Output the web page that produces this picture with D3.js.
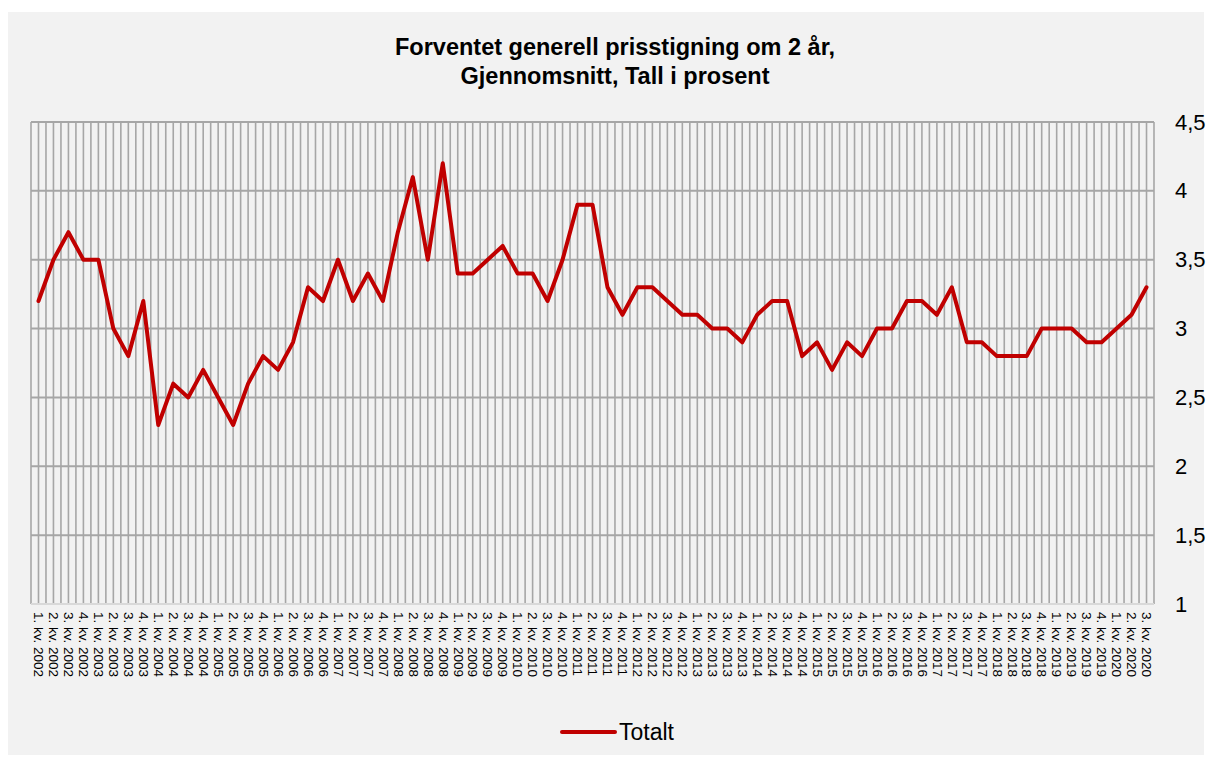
<!DOCTYPE html>
<html>
<head>
<meta charset="utf-8">
<script src="https://cdn.jsdelivr.net/npm/d3@7"></script>
<style>
  html, body { margin: 0; padding: 0; background: #ffffff; }
  svg { display: block; }
  text { font-family: "Liberation Sans", Arial, sans-serif; fill: #000; }
</style>
</head>
<body>
<svg id="chart" width="1211" height="761"></svg>
<script>
// ---- data ----
const titleLines = ["Forventet generell prisstigning om 2 år,", "Gjennomsnitt, Tall i prosent"];
const seriesName = "Totalt";
const years = [2002, 2003, 2004, 2005, 2006, 2007, 2008, 2009, 2010, 2011, 2012, 2013, 2014, 2015, 2016, 2017, 2018, 2019, 2020];
const quarters = ["1. kv.", "2. kv.", "3. kv.", "4. kv."];
const categories = [];
years.forEach(y => quarters.forEach(q => { if (!(y === 2020 && q === "4. kv.")) categories.push(q + " " + y); }));
const values = [
  3.2, 3.5, 3.7, 3.5,   // 2002
  3.5, 3.0, 2.8, 3.2,   // 2003
  2.3, 2.6, 2.5, 2.7,   // 2004
  2.5, 2.3, 2.6, 2.8,   // 2005
  2.7, 2.9, 3.3, 3.2,   // 2006
  3.5, 3.2, 3.4, 3.2,   // 2007
  3.7, 4.1, 3.5, 4.2,   // 2008
  3.4, 3.4, 3.5, 3.6,   // 2009
  3.4, 3.4, 3.2, 3.5,   // 2010
  3.9, 3.9, 3.3, 3.1,   // 2011
  3.3, 3.3, 3.2, 3.1,   // 2012
  3.1, 3.0, 3.0, 2.9,   // 2013
  3.1, 3.2, 3.2, 2.8,   // 2014
  2.9, 2.7, 2.9, 2.8,   // 2015
  3.0, 3.0, 3.2, 3.2,   // 2016
  3.1, 3.3, 2.9, 2.9,   // 2017
  2.8, 2.8, 2.8, 3.0,   // 2018
  3.0, 3.0, 2.9, 2.9,   // 2019
  3.0, 3.1, 3.3         // 2020
];
const yTicks = [1, 1.5, 2, 2.5, 3, 3.5, 4, 4.5];

// ---- layout ----
const svg = d3.select("#chart");
const plot = { left: 31, right: 1154, top: 122, bottom: 604 };
const gridColor = "#a6a6a6";
const lineColor = "#c00000";

svg.append("rect").attr("x", 8).attr("y", 12).attr("width", 1196).attr("height", 743)
  .attr("fill", "#f2f2f2");

const x = d3.scalePoint().domain(categories).range([plot.left, plot.right]).padding(0.5);
const y = d3.scaleLinear().domain([1, 4.5]).range([plot.bottom, plot.top]);
const step = x.step();
const locale = d3.formatLocale({ decimal: ",", thousands: " ", grouping: [3], currency: ["", " kr"] });
const fmt = locale.format("~g");

// vertical gridlines (category centres and boundaries)
const vLines = [];
categories.forEach(c => { vLines.push(x(c) - step / 2); vLines.push(x(c)); });
vLines.push(plot.right);
svg.append("g").selectAll("line").data(vLines).join("line")
  .attr("x1", d => d).attr("x2", d => d)
  .attr("y1", plot.top).attr("y2", plot.bottom)
  .attr("stroke", gridColor).attr("stroke-width", 1.6);

// horizontal gridlines
svg.append("g").selectAll("line").data(yTicks.filter(t => t > 1)).join("line")
  .attr("x1", plot.left).attr("x2", plot.right)
  .attr("y1", d => y(d)).attr("y2", d => y(d))
  .attr("stroke", gridColor).attr("stroke-width", 2);

// bottom axis line
svg.append("line").attr("x1", plot.left).attr("x2", plot.right)
  .attr("y1", y(1)).attr("y2", y(1))
  .attr("stroke", "#d9d9d9").attr("stroke-width", 2);

// y axis labels (right)
const yAxis = d3.axisRight(y).tickValues(yTicks).tickFormat(fmt).tickSize(0).tickPadding(21);
const gy = svg.append("g").attr("transform", `translate(${plot.right},0)`).call(yAxis);
gy.select(".domain").remove();
gy.selectAll("text").style("font-size", "22px").attr("font-family", null);

// x axis labels (rotated)
const xAxis = d3.axisBottom(x).tickSize(0).tickPadding(0);
const gx = svg.append("g").attr("transform", `translate(0,${plot.bottom})`).call(xAxis);
gx.select(".domain").remove();
gx.selectAll("text")
  .attr("font-family", null)
  .style("font-size", "13.5px")
  .attr("text-anchor", "start")
  .attr("dy", "0.35em")
  .attr("y", 0)
  .attr("transform", "translate(0,8) rotate(90)");

// line
const line = d3.line().x((d, i) => x(categories[i])).y(d => y(d));
svg.append("path").datum(values)
  .attr("d", line)
  .attr("fill", "none")
  .attr("stroke", lineColor)
  .attr("stroke-width", 4)
  .attr("stroke-linejoin", "round")
  .attr("stroke-linecap", "round");

// title
const title = svg.append("text").attr("text-anchor", "middle")
  .style("font-size", "23.5px").style("font-weight", "bold");
titleLines.forEach((t, i) => {
  title.append("tspan").attr("x", 615).attr("y", 55 + i * 29).text(t);
});

// legend
svg.append("line").attr("x1", 562).attr("x2", 615).attr("y1", 732).attr("y2", 732)
  .attr("stroke", lineColor).attr("stroke-width", 4).attr("stroke-linecap", "round");
svg.append("text").attr("x", 619).attr("y", 740).style("font-size", "23px").text(seriesName);
</script>
</body>
</html>
